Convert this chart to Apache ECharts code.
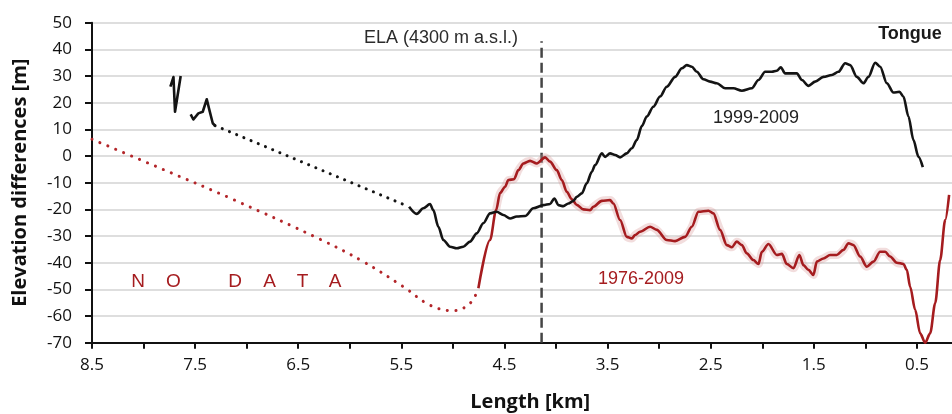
<!DOCTYPE html>
<html>
<head>
<meta charset="utf-8">
<style>
  html, body { margin: 0; padding: 0; background: #fff; }
  #chart { width: 952px; height: 414px; }
</style>
<script src="https://cdn.jsdelivr.net/npm/echarts@6/dist/echarts.min.js"></script>
</head>
<body>
<div id="chart"></div>
<script>
// Elevation differences along the glacier centre line, [length km, dz m]

// 1999-2009, upper fragments
const dz1999UpperA = [[7.74, 26], [7.71, 29.6], [7.695, 16.6], [7.64, 30]];
const dz1999UpperB = [
  [7.543, 15.6], [7.517, 13.7], [7.469, 16], [7.426, 16.6], [7.387, 21.3],
  [7.362, 17.3], [7.329, 12.3], [7.307, 11.4]
];
// 1999-2009, gap bridged by straight dotted line
const dz1999Gap = [[7.307, 11.4], [5.425, -19]];
// 1999-2009, main profile
const dz1999Main = [
  [5.425, -19], [5.351, -21.7], [5.287, -19.6], [5.222, -18], [5.19, -20.3],
  [5.141, -26.5], [5.093, -31.5], [5.028, -34], [4.963, -34.6], [4.899, -34],
  [4.834, -32.1], [4.769, -29], [4.705, -25.2], [4.64, -21.5], [4.575, -20.9],
  [4.511, -22.1], [4.446, -23.4], [4.381, -22.7], [4.3, -22.5], [4.22, -19.6],
  [4.123, -18.4], [4.058, -18], [4.016, -15.9], [3.977, -18.4], [3.929, -18.8],
  [3.88, -17.8], [3.832, -16.8], [3.799, -15.3], [3.75, -14], [3.702, -10.2],
  [3.653, -5.9], [3.621, -3.4], [3.556, 1], [3.524, -0.3], [3.476, 1],
  [3.427, 0.4], [3.379, -0.5], [3.314, 1], [3.265, 2.9], [3.217, 6],
  [3.168, 11.2], [3.12, 14.8], [3.056, 18.5], [2.991, 22.3], [2.926, 26],
  [2.845, 29.7], [2.78, 32.9], [2.732, 34.1], [2.683, 33.5], [2.635, 31.6],
  [2.571, 28.8], [2.506, 27.9], [2.441, 27.3], [2.36, 25.4], [2.28, 25.4],
  [2.198, 24.5], [2.101, 25.4], [2.037, 28.5], [1.972, 31.6], [1.907, 31.6],
  [1.859, 32], [1.82, 33.3], [1.778, 31], [1.713, 31], [1.665, 31],
  [1.616, 28.5], [1.552, 26.3], [1.487, 27.9], [1.407, 29.7], [1.325, 30.4],
  [1.261, 31.6], [1.196, 34.8], [1.148, 34.1], [1.083, 29.7], [1.019, 27.3],
  [0.97, 29.7], [0.905, 35], [0.857, 33.5], [0.792, 27.3], [0.728, 23.8],
  [0.67, 24.1], [0.631, 22.3], [0.582, 14.8], [0.534, 6], [0.485, -0.3],
  [0.443, -4.2]
];

// 1976-2009, interpolated part (no data)
const dz1976Gap = [
  [8.5, 6.3], [7.8, -5.2], [7.13, -16.3], [6.289, -31.2], [5.869, -39.6],
  [5.481, -49], [5.222, -55.9], [4.996, -58], [4.834, -55.2], [4.753, -49.6]
];
// 1976-2009, measured profile
const dz1976Main = [
  [4.753, -49.6], [4.64, -31.5], [4.581, -20.3], [4.543, -13.9], [4.494, -11.5],
  [4.462, -9], [4.407, -8.7], [4.365, -5.3], [4.317, -2.8], [4.252, -1.8],
  [4.187, -2.8], [4.106, -0.5], [4.058, -2.1], [3.993, -5.3], [3.944, -9],
  [3.896, -13.4], [3.847, -16.2], [3.799, -18.3], [3.735, -20], [3.67, -20.3],
  [3.638, -19], [3.556, -16.8], [3.476, -16.5], [3.444, -17.8], [3.379, -24],
  [3.314, -30.3], [3.265, -30.9], [3.233, -29.6], [3.185, -28.4], [3.088, -26.5],
  [3.023, -27.7], [2.926, -31.5], [2.845, -31.9], [2.748, -30.3], [2.683, -26.5],
  [2.619, -20.9], [2.522, -20.5], [2.474, -21.5], [2.409, -27.7], [2.344, -33.4],
  [2.295, -34.2], [2.247, -32.1], [2.198, -33.4], [2.15, -36.5], [2.086, -39],
  [2.037, -40.5], [2.004, -35.9], [1.94, -33], [1.859, -37.1], [1.81, -36.7],
  [1.762, -40.5], [1.698, -42.1], [1.64, -37.1], [1.601, -40.9], [1.552, -42.7],
  [1.504, -44.6], [1.471, -39.6], [1.407, -38.4], [1.342, -37.1], [1.277, -37.1],
  [1.213, -35.2], [1.164, -32.7], [1.116, -33.4], [1.051, -37.7], [0.986, -41.5],
  [0.922, -39.6], [0.857, -35.9], [0.808, -35.9], [0.76, -37.7], [0.695, -40],
  [0.631, -40.5], [0.598, -42.7], [0.566, -49], [0.517, -57.7], [0.469, -66.5],
  [0.42, -70], [0.372, -66.5], [0.323, -55.2], [0.275, -39], [0.226, -24],
  [0.188, -14.6]
];
// Range (km) over which the 1976-2009 uncertainty band is drawn
const bandRange = [0.6, 4.6];

// Equilibrium line altitude position
const elaKm = 4.14;
const elaSpan = [-70, 43];

// Axis ticks
const xMin = 0, xMax = 8.5, xStep = 0.5;
const yMin = -70, yMax = 50, yStep = 10;

// Text
const xTitle = 'Length [km]';
const yTitle = 'Elevation differences [m]';
const elaText = 'ELA (4300 m a.s.l.)';
const tongueText = 'Tongue';
const label1999 = '1999-2009';
const label1976 = '1976-2009';
const noDataLetters = ['N', 'O', 'D', 'A', 'T', 'A'];
const noDataX = [138, 173.5, 235, 269.5, 302.5, 335];

const BLACK = '#141414';
const RED = '#a51c1f';
const AX_FONT = '"Open Sans", "DejaVu Sans", sans-serif';
const TXT_FONT = '"Liberation Sans", Arial, sans-serif';

const chart = echarts.init(document.getElementById('chart'), null, { renderer: 'canvas' });

const bandData = dz1976Main.filter(p => p[0] >= bandRange[0] && p[0] <= bandRange[1]);

const graphics = [
  { type: 'text', x: 441, y: 38.5, style: { text: elaText, font: '18px ' + TXT_FONT, fill: '#2b2b2b', align: 'center', verticalAlign: 'middle' } },
  { type: 'text', x: 910, y: 34.5, style: { text: tongueText, font: 'bold 18px ' + TXT_FONT, fill: '#1a1a1a', align: 'center', verticalAlign: 'middle' } },
  { type: 'text', x: 756, y: 118.5, style: { text: label1999, font: '18px ' + TXT_FONT, fill: '#222', align: 'center', verticalAlign: 'middle' } },
  { type: 'text', x: 641, y: 279.5, style: { text: label1976, font: '18px ' + TXT_FONT, fill: RED, align: 'center', verticalAlign: 'middle' } }
];
noDataLetters.forEach((ch, i) => {
  graphics.push({ type: 'text', x: noDataX[i], y: 282, style: { text: ch, font: '19px ' + TXT_FONT, fill: RED, align: 'center', verticalAlign: 'middle' } });
});

const lineBase = { type: 'line', showSymbol: false, symbol: 'none', animation: false, silent: true, z: 3 };

chart.setOption({
  backgroundColor: '#ffffff',
  animation: false,
  // plot area runs past the right edge of the canvas (0 km lies just outside)
  grid: { left: 92, top: 22.7, width: 876.5, height: 320, containLabel: false, outerBoundsMode: 'none' },
  xAxis: {
    type: 'value', inverse: true, min: xMin, max: xMax, interval: xStep,
    name: xTitle, nameLocation: 'middle', nameGap: 50,
    nameTextStyle: { fontFamily: AX_FONT, fontWeight: 'bold', fontSize: 20, color: '#111' },
    axisLine: { show: true, onZero: false, lineStyle: { color: '#111', width: 2 } },
    axisTick: { show: true, length: 6, lineStyle: { color: '#111', width: 2 } },
    axisLabel: {
      margin: 14, fontFamily: AX_FONT, fontSize: 17, color: '#111',
      formatter: v => (Math.abs((v * 2) % 2 - 1) < 1e-6 ? v.toFixed(1) : '')
    },
    splitLine: { show: false }
  },
  yAxis: {
    type: 'value', min: yMin, max: yMax, interval: yStep,
    name: yTitle, nameLocation: 'middle', nameGap: 62, nameRotate: 90,
    nameTextStyle: { fontFamily: AX_FONT, fontWeight: 'bold', fontSize: 20, color: '#111' },
    axisLine: { show: true, onZero: false, lineStyle: { color: '#111', width: 2 } },
    axisTick: { show: true, length: 7, lineStyle: { color: '#111', width: 2 } },
    axisLabel: { margin: 20, fontFamily: AX_FONT, fontSize: 17, color: '#111' },
    splitLine: { show: true, lineStyle: { color: '#d3d3d3', width: 1.6 } }
  },
  graphic: graphics,
  series: [
    Object.assign({}, lineBase, {
      name: 'band', data: bandData, smooth: 0.3, z: 2,
      lineStyle: { color: 'rgba(215, 150, 150, 0.32)', width: 8, join: 'round' }
    }),
    Object.assign({}, lineBase, {
      name: 'ELA', data: [[elaKm, elaSpan[0]], [elaKm, elaSpan[1]]], z: 1,
      lineStyle: { color: '#454545', width: 2.5, type: [10, 5] }
    }),
    Object.assign({}, lineBase, {
      name: '1976-2009 gap', data: dz1976Gap, smooth: 0.4,
      lineStyle: { color: '#b3262a', width: 3, type: [0.1, 8.5], cap: 'round' }
    }),
    Object.assign({}, lineBase, {
      name: '1976-2009', data: dz1976Main, smooth: 0.3, smoothMonotone: 'x',
      lineStyle: { color: RED, width: 2.6, join: 'round' }
    }),
    Object.assign({}, lineBase, {
      name: '1999-2009 gap', data: dz1999Gap,
      lineStyle: { color: BLACK, width: 3, type: [0.1, 7.7], cap: 'round' }
    }),
    Object.assign({}, lineBase, {
      name: '1999-2009 a', data: dz1999UpperA,
      lineStyle: { color: BLACK, width: 2.6, join: 'round' }
    }),
    Object.assign({}, lineBase, {
      name: '1999-2009 b', data: dz1999UpperB,
      lineStyle: { color: BLACK, width: 2.6, join: 'round' }
    }),
    Object.assign({}, lineBase, {
      name: '1999-2009', data: dz1999Main, smooth: 0.3, smoothMonotone: 'x',
      lineStyle: { color: BLACK, width: 2.6, join: 'round' }
    })
  ]
});
</script>
</body>
</html>
